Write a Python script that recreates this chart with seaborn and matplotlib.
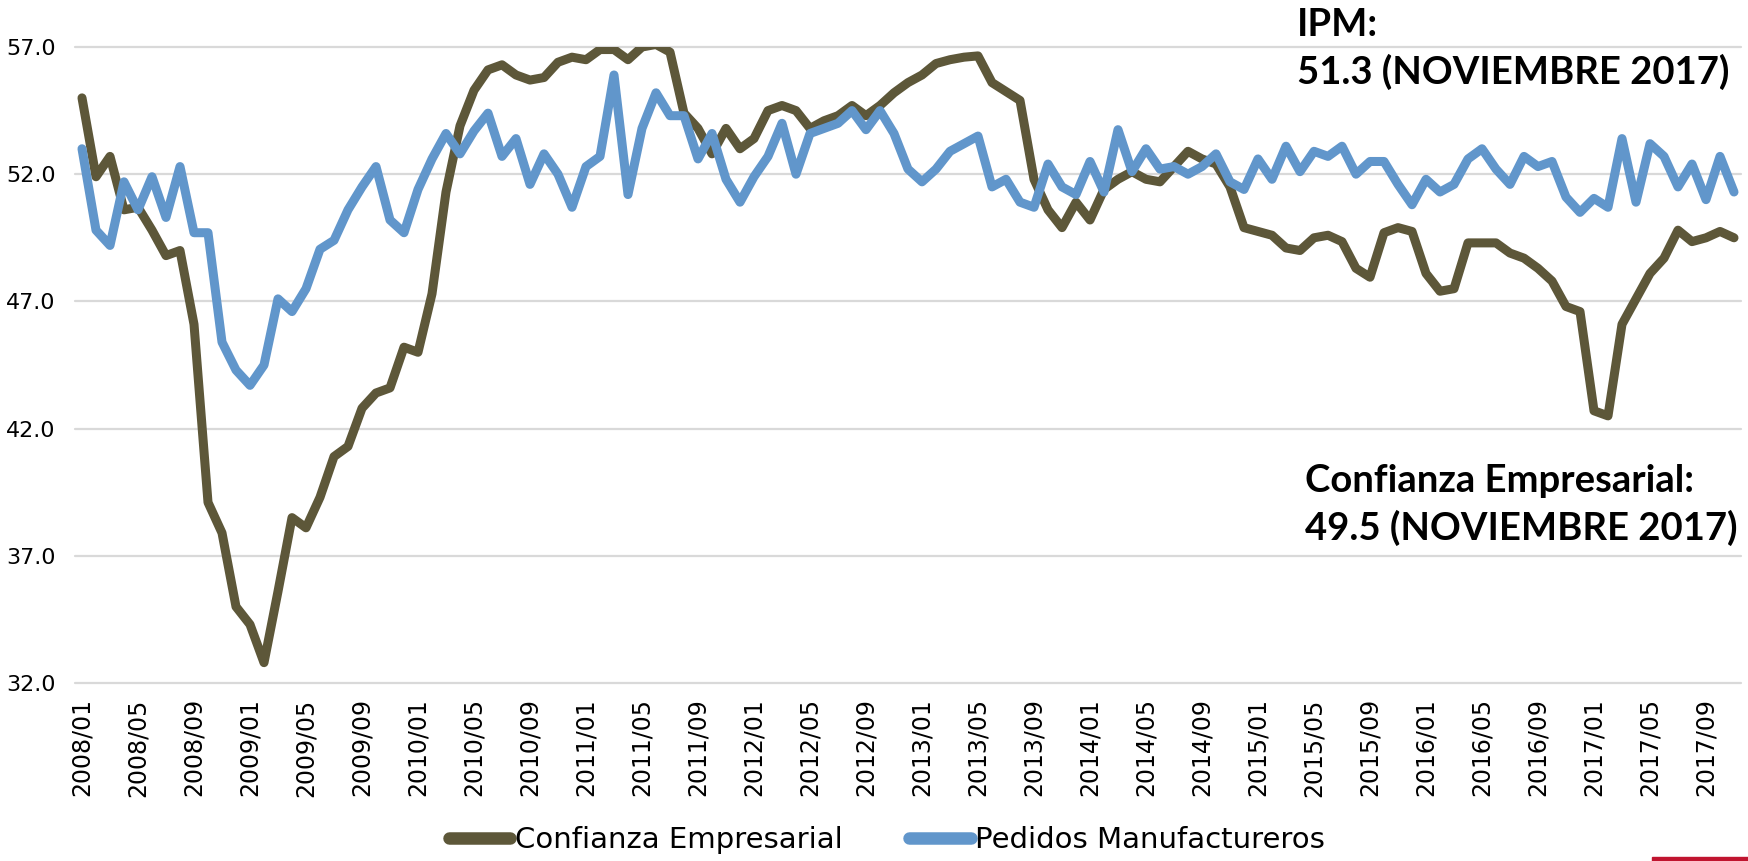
import matplotlib
matplotlib.use("Agg")
import matplotlib.pyplot as plt
from matplotlib.lines import Line2D
from matplotlib.patches import Rectangle
import numpy as np
import pandas as pd
import seaborn as sns

# Monthly series, January 2008 to November 2017
years = list(range(2008, 2018))
confianza = [
    55.0, 51.9, 52.7, 50.6, 50.7, 49.8, 48.8, 49.0, 46.1, 39.1, 37.9, 35.0,
    34.3, 32.8, 35.6, 38.5, 38.1, 39.3, 40.9, 41.3, 42.8, 43.4, 43.6, 45.2,
    45.0, 47.3, 51.3, 53.9, 55.3, 56.1, 56.3, 55.9, 55.7, 55.8, 56.4, 56.6,
    56.5, 56.9, 56.9, 56.5, 57.0, 57.1, 56.8, 54.4, 53.8, 52.8, 53.8, 53.0,
    53.4, 54.5, 54.7, 54.5, 53.8, 54.1, 54.3, 54.7, 54.3, 54.7, 55.2, 55.6,
    55.9, 56.35, 56.5, 56.6, 56.65, 55.6, 55.25, 54.9, 51.8, 50.6, 49.9, 50.9,
    50.2, 51.4, 51.8, 52.1, 51.8, 51.7, 52.3, 52.9, 52.6, 52.4, 51.5, 49.9,
    49.75, 49.6, 49.1, 49.0, 49.5, 49.6, 49.35, 48.3, 47.95, 49.7, 49.9, 49.75,
    48.1, 47.4, 47.5, 49.3, 49.3, 49.3, 48.9, 48.7, 48.3, 47.8, 46.8, 46.6,
    42.7, 42.5, 46.1, 47.1, 48.1, 48.7, 49.8, 49.35, 49.5, 49.75, 49.5,
]
pedidos = [
    53.0, 49.8, 49.2, 51.7, 50.6, 51.9, 50.3, 52.3, 49.7, 49.7, 45.4, 44.3,
    43.7, 44.5, 47.1, 46.6, 47.5, 49.05, 49.4, 50.6, 51.5, 52.3, 50.2, 49.7,
    51.4, 52.6, 53.6, 52.8, 53.7, 54.4, 52.7, 53.4, 51.6, 52.8, 52.0, 50.7,
    52.3, 52.7, 55.9, 51.2, 53.8, 55.2, 54.3, 54.3, 52.6, 53.6, 51.8, 50.9,
    51.9, 52.7, 54.0, 52.0, 53.6, 53.8, 54.0, 54.5, 53.75, 54.5, 53.6, 52.2,
    51.7, 52.2, 52.9, 53.2, 53.5, 51.5, 51.8, 50.9, 50.7, 52.4, 51.5, 51.2,
    52.5, 51.3, 53.75, 52.1, 53.0, 52.2, 52.3, 52.0, 52.3, 52.8, 51.7, 51.4,
    52.6, 51.8, 53.1, 52.1, 52.9, 52.7, 53.1, 52.0, 52.5, 52.5, 51.6, 50.8,
    51.8, 51.3, 51.6, 52.6, 53.0, 52.2, 51.6, 52.7, 52.3, 52.5, 51.1, 50.5,
    51.05, 50.7, 53.4, 50.9, 53.2, 52.7, 51.5, 52.4, 51.0, 52.7, 51.3,
]
series_names = ["Confianza Empresarial", "Pedidos Manufactureros"]
y_ticks = [32.0, 37.0, 42.0, 47.0, 52.0, 57.0]

months = [f"{y}/{m:02d}" for y in years for m in range(1, 13)][:len(confianza)]
tick_idx = list(range(0, len(months), 4))
tick_labels = [months[i] for i in tick_idx]

df = pd.DataFrame({
    "idx": list(range(len(months))) * 2,
    "valor": confianza + pedidos,
    "serie": [series_names[0]] * len(months) + [series_names[1]] * len(months),
})

colors = {series_names[0]: "#5D5739", series_names[1]: "#6196CB"}

sns.set_theme(style="white")
plt.rcParams["font.family"] = ["DejaVu Sans"]
plt.rcParams["text.color"] = "black"
plt.rcParams["xtick.color"] = "black"
plt.rcParams["ytick.color"] = "black"

W, H = 1748, 861
fig = plt.figure(figsize=(W / 100, H / 100), dpi=100)
ax = fig.add_axes([75 / W, 1 - 683 / H, (1741 - 75) / W, (683 - 47) / H])

sns.lineplot(data=df, x="idx", y="valor", hue="serie", hue_order=series_names,
             palette=colors, linewidth=6.5, ax=ax, legend=False,
             solid_joinstyle="round", solid_capstyle="round")

ax.set_xlim(-0.5, len(months) - 0.5)
ax.set_ylim(y_ticks[0], y_ticks[-1])
ax.set_yticks(y_ticks)
ax.set_yticklabels([f"{v:.1f}" for v in y_ticks], fontsize=16)
ax.set_xticks(tick_idx)
ax.set_xticklabels(tick_labels, rotation=90, fontsize=17)
ax.tick_params(axis="y", length=0, pad=14)
ax.tick_params(axis="x", length=0, pad=11)
ax.set_xlabel("")
ax.set_ylabel("")
for s in ax.spines.values():
    s.set_visible(False)
ax.yaxis.grid(True, color="#D9D9D9", linewidth=1.6)
ax.xaxis.grid(False)
for gl in ax.get_ygridlines():
    gl.set_clip_on(False)

handles = [Line2D([0], [0], color=colors[n], linewidth=9, solid_capstyle="round")
           for n in series_names]
fig.legend(handles, series_names, loc="center", bbox_to_anchor=(887 / W, 1 - 840 / H),
           ncol=2, frameon=False, handlelength=2.1, handletextpad=0.15,
           columnspacing=2.3, prop={"family": "DejaVu Sans", "size": 21})

fig.text(1297 / W, 1 - 8 / H, "IPM:\n51.3 (NOVIEMBRE 2017)", ha="left", va="top",
         fontsize=27.5, fontweight="bold", family="Lato", linespacing=1.4)
fig.text(1305 / W, 1 - 464 / H, "Confianza Empresarial:\n49.5 (NOVIEMBRE 2017)", ha="left",
         va="top", fontsize=27.5, fontweight="bold", family="Lato", linespacing=1.4)

fig.patches.append(Rectangle((1652 / W, 0), (W - 1652) / W, 4 / H,
                             transform=fig.transFigure, color="#C0142F"))

fig.savefig("out.png", dpi=100)
